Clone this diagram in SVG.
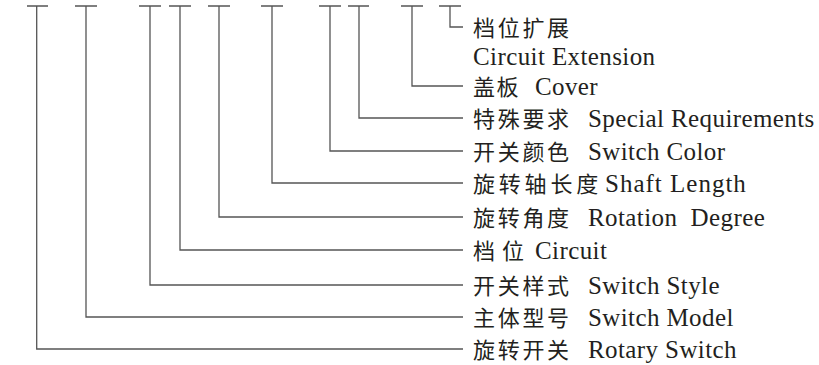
<svg xmlns="http://www.w3.org/2000/svg" width="819" height="365" viewBox="0 0 819 365">
<style>
.c{fill:none;stroke:#555;stroke-width:1.3}
.t{font-family:"Liberation Serif","Times New Roman",serif;font-size:25px;fill:#231f20}
.zh{font-family:"Noto Sans CJK SC","Noto Sans CJK JP",sans-serif;font-size:22px;letter-spacing:2.7px}
.en{font-family:"Liberation Serif","Times New Roman",serif;letter-spacing:0.4px}
</style>
<rect width="819" height="365" fill="#fff"/>
<g id="connectors">
<path class="c" d="M27 6H48M36.7 6V349H463"/>
<path class="c" d="M75 6H97M86 6V317H463"/>
<path class="c" d="M139 6H161M150 6V285H463"/>
<path class="c" d="M169 6H191M180 6V250H463"/>
<path class="c" d="M208 6H230M219 6V217H463"/>
<path class="c" d="M261 6H283M272 6V183H463"/>
<path class="c" d="M319 6H341M330 6V151H463"/>
<path class="c" d="M348 6H369M359 6V118H463"/>
<path class="c" d="M401 6H423M412 6V86H463"/>
<path class="c" d="M439 6H461M450 6V27H463"/>
</g>
<g id="n-ext"><text class="t" y="36"><tspan class="zh" x="473">档位扩展</tspan></text><text class="t en" x="473" y="65">Circuit Extension</text></g>
<g id="n-cover"><text class="t" y="95"><tspan class="zh" x="473" style="letter-spacing:1.5px">盖板</tspan><tspan class="en" x="535">Cover</tspan></text></g>
<g id="n-special"><text class="t" y="127"><tspan class="zh" x="473">特殊要求</tspan><tspan class="en" x="588">Special Requirements</tspan></text></g>
<g id="n-color"><text class="t" y="160"><tspan class="zh" x="473">开关颜色</tspan><tspan class="en" x="588">Switch Color</tspan></text></g>
<g id="n-shaft"><text class="t" y="192"><tspan class="zh" x="473" style="letter-spacing:3.8px">旋转轴长度</tspan><tspan class="en" x="605" style="letter-spacing:1px">Shaft Length</tspan></text></g>
<g id="n-rotation"><text class="t" y="226" xml:space="preserve"><tspan class="zh" x="473">旋转角度</tspan><tspan class="en" x="588">Rotation  Degree</tspan></text></g>
<g id="n-circuit"><text class="t" y="259"><tspan class="zh" x="473" style="letter-spacing:7px">档位</tspan><tspan class="en" x="535">Circuit</tspan></text></g>
<g id="n-style"><text class="t" y="294"><tspan class="zh" x="473">开关样式</tspan><tspan class="en" x="588">Switch Style</tspan></text></g>
<g id="n-model"><text class="t" y="326"><tspan class="zh" x="473">主体型号</tspan><tspan class="en" x="588">Switch Model</tspan></text></g>
<g id="n-rotary"><text class="t" y="358"><tspan class="zh" x="473">旋转开关</tspan><tspan class="en" x="588">Rotary Switch</tspan></text></g>
</svg>
